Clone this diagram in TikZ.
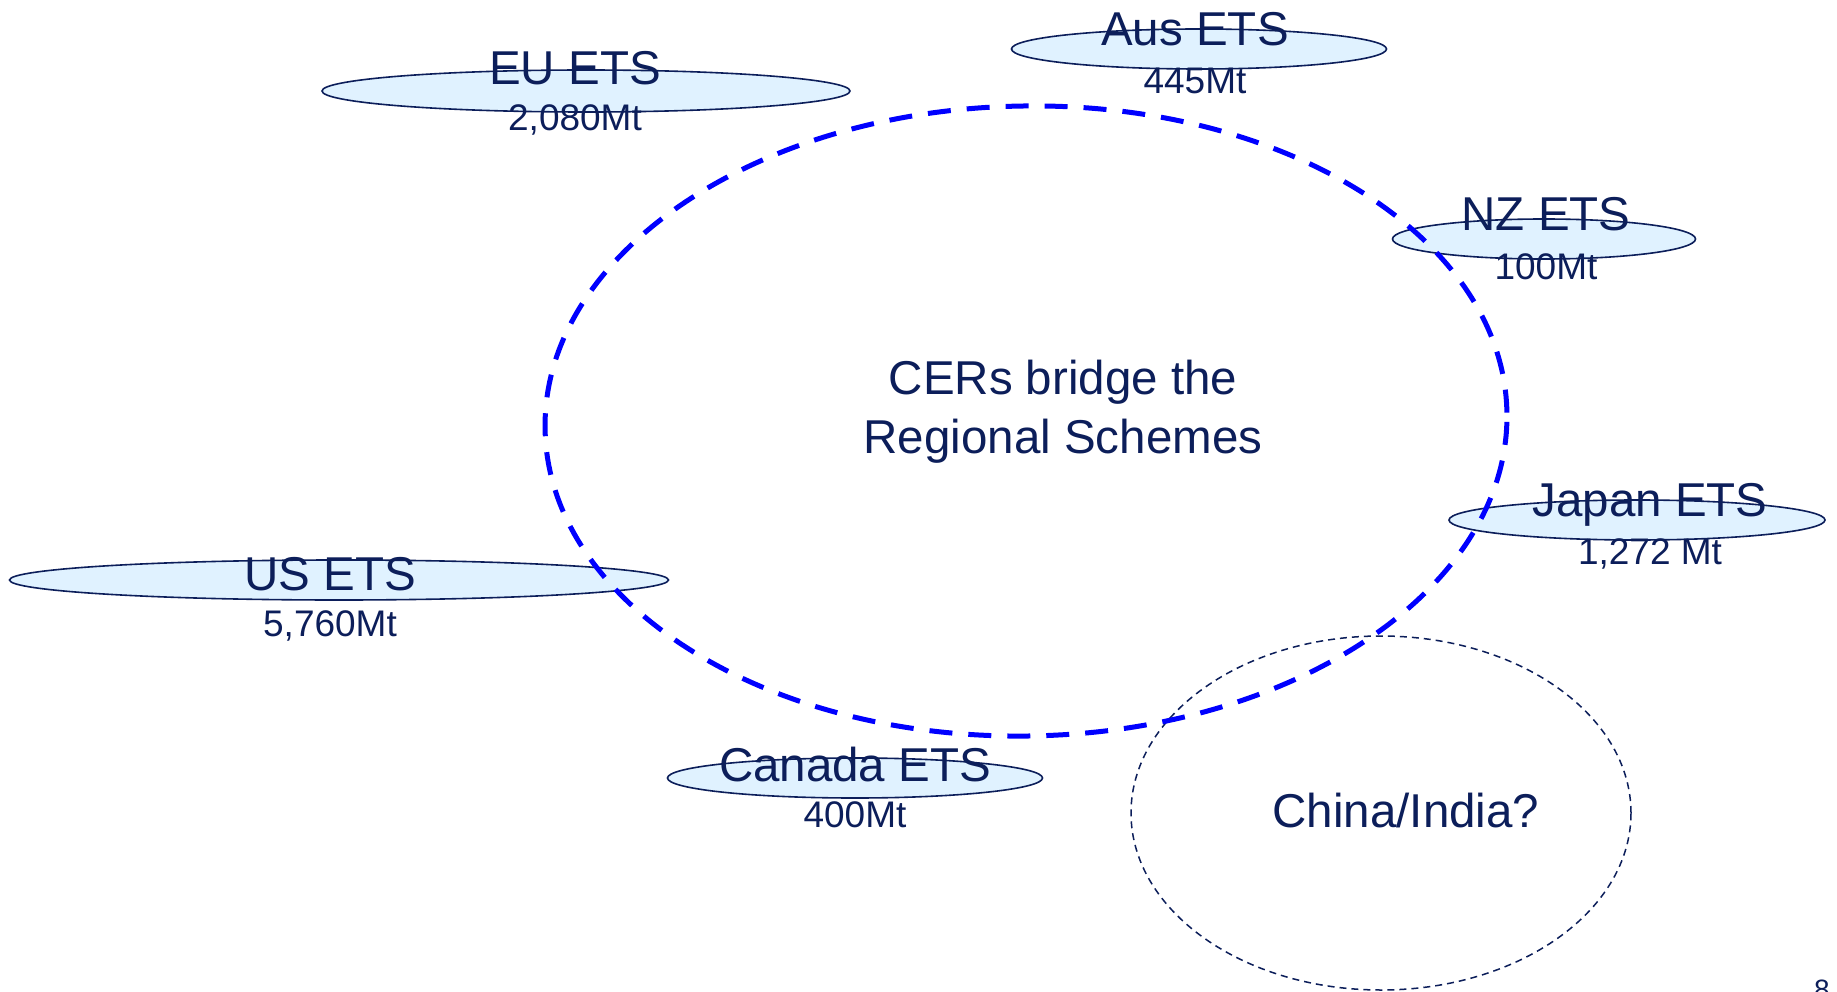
\documentclass[tikz,border=0pt]{standalone}
\usepackage{fontspec}
\setmainfont{Liberation Sans}
\usetikzlibrary{shapes.geometric}
\definecolor{navy}{RGB}{12,30,90}
\definecolor{etsfill}{RGB}{224,242,255}
\definecolor{cerblue}{RGB}{0,0,255}
\begin{document}
\begin{tikzpicture}[x=1pt,y=-1pt,
  ets/.style={ellipse, draw=navy, fill=etsfill, line width=1.6pt, inner sep=0pt},
  bigtxt/.style={text=navy, font=\fontsize{47.5}{57}\selectfont, inner sep=0pt, anchor=base},
  smalltxt/.style={text=navy, font=\fontsize{37}{44}\selectfont, inner sep=0pt, anchor=base},
  cerring/.style={ellipse, draw=cerblue, line width=5pt, dash pattern=on 23pt off 16pt, inner sep=0pt},
  chinaring/.style={ellipse, draw=navy, line width=1.5pt, dash pattern=on 7pt off 5pt, inner sep=0pt}]
\useasboundingbox (0,0) rectangle (1837,992);
\clip (0,0) rectangle (1837,992);
\fill[white] (0,0) rectangle (1837,992);

% China/India ellipse
\node[chinaring, minimum width=500pt, minimum height=354pt] (china) at (1381,813) {};
\node[bigtxt] (chinatxt) at (1406,827) {China/India?};

% ETS ellipses
\node[ets, minimum width=528pt, minimum height=42pt] (eu) at (586,91) {};
\node[ets, minimum width=375pt, minimum height=40pt] (aus) at (1199,49) {};
\node[ets, minimum width=303pt, minimum height=40pt] (nz) at (1544,239) {};
\node[ets, minimum width=376pt, minimum height=40pt] (japan) at (1637,520) {};
\node[ets, minimum width=659pt, minimum height=40pt] (us) at (339,580) {};
\node[ets, minimum width=375pt, minimum height=40pt] (canada) at (855,778) {};

% CER ring
\node[cerring, minimum width=962pt, minimum height=630pt, rotate=1] (cer) at (1026,421) {};
\node[bigtxt] (cer1) at (1063,394) {CERs bridge the};
\node[bigtxt] (cer2) at (1063,453) {Regional Schemes};

% labels
\node[bigtxt] (eut) at (575,85) {EU ETS};
\node[smalltxt] (eun) at (575,131) {2,080Mt};
\node[bigtxt] (aust) at (1195,46) {Aus ETS};
\node[smalltxt] (ausn) at (1195,94) {445Mt};
\node[bigtxt] (nzt) at (1546,231) {NZ ETS};
\node[smalltxt] (nzn) at (1546,280) {100Mt};
\node[bigtxt] (jpt) at (1650,516) {Japan ETS};
\node[smalltxt] (jpn) at (1650,564) {1,272 Mt};
\node[bigtxt] (ust) at (330,590) {US ETS};
\node[smalltxt] (usn) at (330,636) {5,760Mt};
\node[bigtxt] (cat) at (855,781) {Canada ETS};
\node[smalltxt] (can) at (855,827) {400Mt};

% page number
\node[text=navy, font=\fontsize{28}{34}\selectfont, inner sep=0pt, anchor=base] (pagenum) at (1822,999) {8};
\end{tikzpicture}
\end{document}
